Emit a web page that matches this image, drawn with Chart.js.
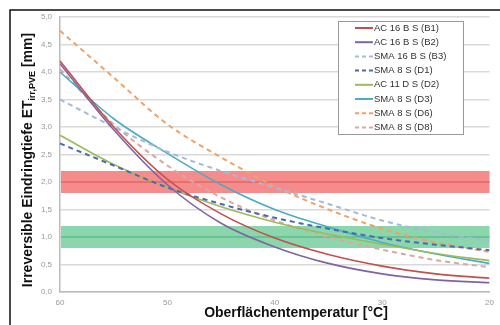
<!DOCTYPE html>
<html><head><meta charset="utf-8">
<script src="https://cdn.jsdelivr.net/npm/chart.js@4/dist/chart.umd.min.js"></script>
<style>html,body{margin:0;padding:0;background:#fff;}#wrap{width:500px;height:325px;position:relative;}</style>
</head><body><div id="wrap"><canvas id="c" width="500" height="325"></canvas></div>
<script>
const temps = [60, 55, 50, 45, 40, 35, 30, 25, 20];
const seriesLabels = ["AC 16 B S (B1)", "AC 16 B S (B2)", "SMA 16 B S (B3)", "SMA 8 S (D1)", "AC 11 D S (D2)", "SMA 8 S (D3)", "SMA 8 S (D6)", "SMA 8 S (D8)"];
const B1 = [4.2, 3.0, 2.05, 1.42, 0.98, 0.68, 0.47, 0.33, 0.25];
const B2 = [4.15, 2.95, 1.95, 1.25, 0.82, 0.52, 0.33, 0.22, 0.17];
const B3 = [3.5, 3.0, 2.55, 2.2, 1.9, 1.6, 1.3, 1.08, 0.93];
const D1 = [2.7, 2.3, 1.9, 1.6, 1.35, 1.15, 0.98, 0.86, 0.76];
const D2 = [2.85, 2.32, 1.9, 1.55, 1.27, 1.05, 0.87, 0.7, 0.57];
const D3 = [4.0, 3.15, 2.52, 1.95, 1.5, 1.18, 0.9, 0.69, 0.52];
const D6 = [4.75, 3.9, 3.05, 2.45, 1.92, 1.5, 1.15, 0.9, 0.73];
const D8 = [4.05, 3.05, 2.3, 1.72, 1.3, 1.0, 0.77, 0.58, 0.45];
const xTicks = [60, 50, 40, 30, 20];
const yTicks = [0, 0.5, 1, 1.5, 2, 2.5, 3, 3.5, 4, 4.5, 5];
const redBand = [1.8, 2.0, 2.2];
const greenBand = [0.8, 1.0, 1.2];

const values = [B1, B2, B3, D1, D2, D3, D6, D8];
const colors = ['#c0504d', '#8064a2', '#a3bad9', '#4a6aae', '#9bbb59', '#4bacc6', '#f2a066', '#dba7a2'];
const dashed = [false, false, true, true, false, false, true, true];

const datasets = values.map((v, i) => ({
  label: seriesLabels[i],
  data: temps.map((t, k) => ({x: t, y: v[k]})),
  borderColor: colors[i],
  backgroundColor: colors[i],
  borderWidth: dashed[i] ? 2 : 1.6,
  borderDash: dashed[i] ? [5, 4] : [],
  pointRadius: 0,
  cubicInterpolationMode: 'monotone',
  fill: false
}));

const bandPlugin = {
  id: 'bands',
  beforeDatasetsDraw(chart) {
    const {ctx, chartArea: a, scales: {y}} = chart;
    const draw = (b, fillC, lineC) => {
      const top = y.getPixelForValue(b[2]), bot = y.getPixelForValue(b[0]), mid = y.getPixelForValue(b[1]);
      ctx.save();
      ctx.fillStyle = fillC;
      ctx.fillRect(a.left + 1, top, a.right - a.left - 1, bot - top);
      ctx.strokeStyle = lineC; ctx.lineWidth = 1;
      ctx.beginPath(); ctx.moveTo(a.left + 1, mid); ctx.lineTo(a.right, mid); ctx.stroke();
      ctx.restore();
    };
    draw(redBand, 'rgba(244,110,110,0.8)', '#e05a5a');
    draw(greenBand, 'rgba(100,200,145,0.75)', '#52b47e');
  }
};

const decoPlugin = {
  id: 'deco',
  afterDraw(chart) {
    const {ctx, chartArea: a} = chart;
    ctx.save();
    // frame
    ctx.strokeStyle = '#111'; ctx.lineWidth = 1.5;
    ctx.beginPath(); ctx.moveTo(10, 326); ctx.lineTo(10, 10); ctx.lineTo(501, 10); ctx.stroke();
    // x title
    ctx.fillStyle = '#111';
    ctx.font = 'bold 14px "Liberation Sans", Arial, sans-serif';
    ctx.textAlign = 'center'; ctx.textBaseline = 'middle';
    ctx.fillText('Oberflächentemperatur [°C]', 296, 313);
    // y title with subscript
    ctx.translate(27, 160);
    ctx.rotate(-Math.PI / 2);
    const big = 'bold 14px "Liberation Sans", Arial, sans-serif';
    const small = 'bold 9px "Liberation Sans", Arial, sans-serif';
    const p1 = 'Irreversible Eindringtiefe ET', p2 = 'irr,PVE', p3 = ' [mm]';
    ctx.font = big; const w1 = ctx.measureText(p1).width, w3 = ctx.measureText(p3).width;
    ctx.font = small; const w2 = ctx.measureText(p2).width;
    let x0 = -(w1 + w2 + w3) / 2;
    ctx.textAlign = 'left'; ctx.textBaseline = 'alphabetic';
    ctx.font = big; ctx.fillText(p1, x0, 5);
    ctx.font = small; ctx.fillText(p2, x0 + w1, 8);
    ctx.font = big; ctx.fillText(p3, x0 + w1 + w2, 5);
    ctx.restore();
    // legend
    ctx.save();
    const lx = 338, ly = 21, lw = 125, lh = 113;
    ctx.fillStyle = '#fff'; ctx.fillRect(lx, ly, lw, lh);
    ctx.strokeStyle = '#999'; ctx.lineWidth = 1;
    ctx.strokeRect(lx + 0.5, ly + 0.5, lw, lh);
    ctx.font = '9.5px "Liberation Sans", Arial, sans-serif';
    ctx.textBaseline = 'middle'; ctx.textAlign = 'left';
    chart.data.datasets.forEach((d, i) => {
      const yy = ly + 7 + i * 14.2;
      ctx.strokeStyle = d.borderColor; ctx.lineWidth = 2;
      ctx.setLineDash(d.borderDash.length ? [4, 3] : []);
      ctx.beginPath(); ctx.moveTo(355, yy); ctx.lineTo(373, yy); ctx.stroke();
      ctx.setLineDash([]);
      ctx.fillStyle = '#333';
      ctx.fillText(d.label, 374, yy);
    });
    ctx.restore();
  }
};

new Chart(document.getElementById('c'), {
  type: 'line',
  data: {datasets},
  options: {
    responsive: false,
    animation: false,
    layout: {padding: {top: 17, right: 6, left: 0, bottom: 0}},
    plugins: {legend: {display: false}, tooltip: {enabled: false}},
    scales: {
      x: {
        type: 'linear', reverse: true, min: 20, max: 60,
        afterBuildTicks(s) { s.ticks = xTicks.map(v => ({value: v})); },
        afterFit(s) { s.height = 33; },
        grid: {display: false, drawTicks: false},
        border: {display: true, color: '#bbb', width: 1.5},
        ticks: {color: '#999', font: {size: 8, family: '"Liberation Sans", Arial'}, padding: 6, maxRotation: 0}
      },
      y: {
        min: 0, max: 5,
        afterBuildTicks(s) { s.ticks = yTicks.map(v => ({value: v})); },
        afterFit(s) { s.width = 60; },
        grid: {color: '#d9d9d9', lineWidth: 1.5, drawTicks: false},
        border: {display: true, color: '#bbb', width: 1.5},
        ticks: {color: '#999', font: {size: 8, family: '"Liberation Sans", Arial'}, padding: 8,
          callback: v => v.toFixed(1).replace('.', ',')}
      }
    }
  },
  plugins: [bandPlugin, decoPlugin]
});
</script></body></html>
